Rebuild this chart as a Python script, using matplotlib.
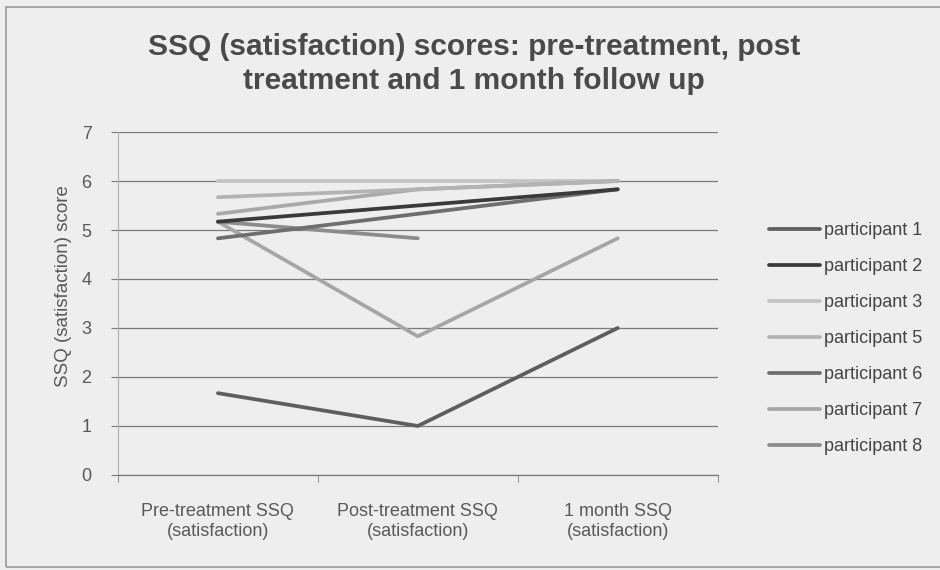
import matplotlib.pyplot as plt
import matplotlib.patches as patches
import numpy as np

# Kategorie pomiaru i wyniki SSQ dla kolejnych uczestników
categories = ["Pre-treatment SSQ\n(satisfaction)",
              "Post-treatment SSQ\n(satisfaction)",
              "1 month SSQ\n(satisfaction)"]

participant_1 = [1.67, 1.0, 3.0]
participant_2 = [5.17, 5.5, 5.83]
participant_3 = [6.0, 6.0, 6.0]
participant_5 = [5.67, 5.83, 6.0]
participant_6 = [4.83, 5.33, 5.83]
participant_7 = [5.17, 2.83, 4.83]
participant_8 = [5.17, 4.83, np.nan]
extra_series = [5.33, 5.83, 6.0]

labels = ["participant 1", "participant 2", "participant 3", "participant 5",
          "participant 6", "participant 7", "participant 8"]

BG = "#eeeeee"
TEXT = "#595959"
GRID = "#7a7a7a"

plt.rcParams['font.family'] = ['Liberation Sans', 'DejaVu Sans']

fig = plt.figure(figsize=(9.4, 5.7), dpi=100)
fig.patch.set_facecolor(BG)
ax = fig.add_axes([0.1255, 0.1667, 0.638, 0.6017])
ax.set_facecolor(BG)

# Ramka wokół całego wykresu
frame = patches.Rectangle((0.006, 0.005), 1.0, 0.982, transform=fig.transFigure,
                          fill=False, edgecolor="#9a9a9a", linewidth=1.2)
fig.patches.append(frame)

x = np.arange(len(categories)) + 0.5
lw = 2.7

# Linie rysowane od tła ku przodowi
ax.plot(x, participant_3, color="#c4c4c4", lw=lw, solid_capstyle='round', label=labels[2], zorder=3)
ax.plot(x, extra_series, color="#a9a9a9", lw=lw, solid_capstyle='round', label='_nolegend_', zorder=3)
ax.plot(x, participant_5, color="#b3b3b3", lw=lw, solid_capstyle='round', label=labels[3], zorder=3)
ax.plot(x, participant_7, color="#a6a6a6", lw=lw, solid_capstyle='round', label=labels[5], zorder=3)
ax.plot(x, participant_8, color="#8c8c8c", lw=lw, solid_capstyle='round', label=labels[6], zorder=3)
ax.plot(x, participant_6, color="#6e6e6e", lw=lw, solid_capstyle='round', label=labels[4], zorder=3)
ax.plot(x, participant_2, color="#3a3a3a", lw=lw, solid_capstyle='round', label=labels[1], zorder=4)
ax.plot(x, participant_1, color="#5e5e5e", lw=lw, solid_capstyle='round', label=labels[0], zorder=4)

ax.set_xlim(0, 3)
ax.set_ylim(0, 7)
ax.set_yticks(range(0, 8))
ax.yaxis.grid(True, color=GRID, linewidth=0.9, zorder=1)
ax.set_axisbelow(True)

ax.set_xticks(x)
ax.set_xticklabels(categories, fontsize=13, color=TEXT, linespacing=1.25)
ax.set_xticks(range(0, 4), minor=True)
ax.tick_params(axis='x', which='major', length=0, pad=20)
ax.tick_params(axis='x', which='minor', length=5, color=GRID, direction='out')
ax.tick_params(axis='y', length=5, color=GRID, labelsize=13, labelcolor=TEXT, pad=14)

for side in ['top', 'right']:
    ax.spines[side].set_visible(False)
ax.spines['left'].set_color("#b0b0b0")
ax.spines['left'].set_linewidth(0.8)
ax.spines['bottom'].set_color(GRID)
ax.spines['bottom'].set_linewidth(0.9)

ax.set_ylabel("SSQ (satisfaction) score", fontsize=13.5, color=TEXT, labelpad=7, y=0.55)

fig.text(0.504, 0.888, "SSQ (satisfaction) scores: pre-treatment, post\ntreatment and 1 month follow up",
         ha='center', va='center', fontsize=21.5, fontweight='bold', color="#4a4a4a", linespacing=1.3)

# Legenda w kolejności uczestników
handles, lbls = ax.get_legend_handles_labels()
order = [lbls.index(l) for l in labels]
leg = fig.legend([handles[i] for i in order], [lbls[i] for i in order],
                 loc='center left', bbox_to_anchor=(0.801, 0.406), frameon=False,
                 fontsize=13, labelcolor="#444444", handlelength=2.8, handletextpad=0.22,
                 labelspacing=1.05)

plt.savefig("out.png", dpi=100, facecolor=BG)
